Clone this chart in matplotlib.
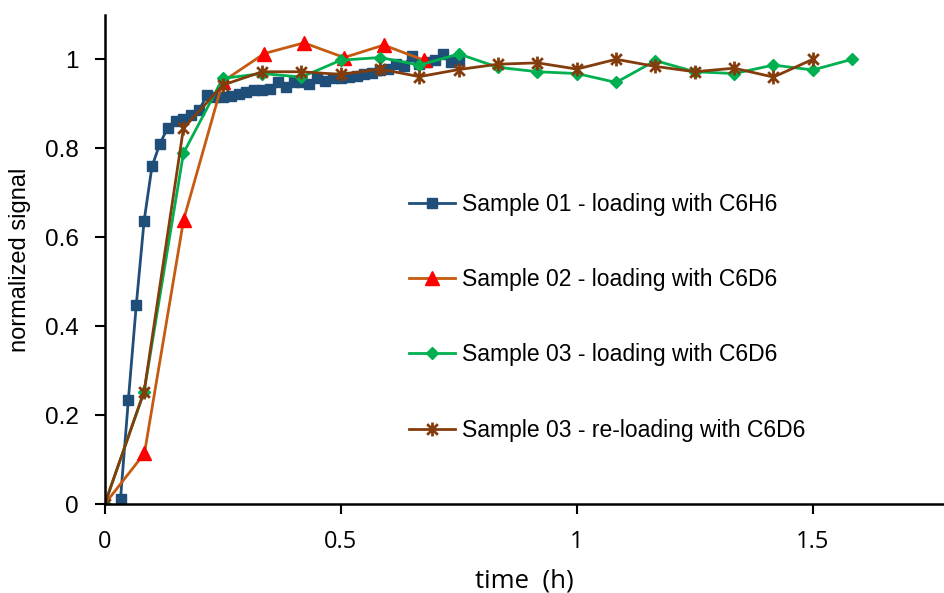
import matplotlib.pyplot as plt
from matplotlib.path import Path
from matplotlib.ticker import FuncFormatter

plt.rcParams['font.family'] = ['Liberation Sans', 'DejaVu Sans']

# Sample 01 - one point per minute, from 2 to 45 min
s1_minutes = list(range(2, 46))
s1_signal = [0.012, 0.235, 0.447, 0.637, 0.759, 0.810, 0.846, 0.862, 0.866, 0.875,
             0.886, 0.920, 0.916, 0.915, 0.918, 0.922, 0.926, 0.930, 0.932, 0.933,
             0.950, 0.938, 0.950, 0.950, 0.945, 0.957, 0.952, 0.958, 0.957, 0.961,
             0.963, 0.968, 0.970, 0.975, 0.978, 0.990, 0.985, 1.008, 0.990, 0.995,
             0.998, 1.012, 0.995, 0.998]

# Sample 02
s2_time = [0, 0.084, 0.167, 0.25, 0.338, 0.422, 0.507, 0.591, 0.676]
s2_signal = [0, 0.114, 0.639, 0.950, 1.013, 1.037, 1.004, 1.032, 0.998]

# Sample 03 loading - every 5 min
s3_steps = list(range(0, 20))
s3_signal = [0, 0.253, 0.789, 0.957, 0.968, 0.960, 0.998, 1.004, 0.987, 1.012,
             0.982, 0.972, 0.968, 0.948, 0.997, 0.972, 0.968, 0.987, 0.976, 1.0]

# Sample 03 re-loading - every 5 min
s3r_steps = list(range(0, 19))
s3r_signal = [0, 0.253, 0.845, 0.942, 0.972, 0.972, 0.966, 0.978, 0.961, 0.977,
              0.989, 0.992, 0.978, 1.0, 0.984, 0.972, 0.980, 0.960, 1.0]

s1_time = [m / 60 for m in s1_minutes]
s3_time = [k / 12 for k in s3_steps]
s3r_time = [k / 12 for k in s3r_steps]

# Excel-like star marker: x plus a vertical bar
star = Path([(-1, -1), (1, 1), (-1, 1), (1, -1), (0, -1.3), (0, 1.3)],
            [Path.MOVETO, Path.LINETO, Path.MOVETO, Path.LINETO, Path.MOVETO, Path.LINETO])

fig = plt.figure(figsize=(9.44, 5.93), dpi=100)
ax = fig.add_axes([0.111, 0.150, 0.889, 0.825])

ax.plot(s1_time, s1_signal, color='#1F4E79', lw=2, marker='s', ms=7.5,
        label='Sample 01 - loading with C6H6')
ax.plot(s2_time, s2_signal, color='#C55A11', lw=2, marker='^', ms=9.5,
        mfc='#FF0000', mec='#FF0000', label='Sample 02 - loading with C6D6')
ax.plot(s3_time, s3_signal, color='#00B050', lw=2, marker='D', ms=6,
        label='Sample 03 - loading with C6D6')
ax.plot(s3r_time, s3r_signal, color='#843C0C', lw=2, marker=star, ms=10, mew=2,
        label='Sample 03 - re-loading with C6D6')

ax.set_xlim(0, 1.778)
ax.set_ylim(0, 1.1)
ax.set_xticks([0, 0.5, 1, 1.5])
ax.set_yticks([0, 0.2, 0.4, 0.6, 0.8, 1.0])
fmt = FuncFormatter(lambda v, p: f'{v:g}')
ax.xaxis.set_major_formatter(fmt)
ax.yaxis.set_major_formatter(fmt)

ax.spines['top'].set_visible(False)
ax.spines['right'].set_visible(False)
ax.spines['left'].set_linewidth(1.8)
ax.spines['bottom'].set_linewidth(1.8)
ax.tick_params(direction='out', length=7, width=1.5)
ax.tick_params(axis='y', labelsize=17.5, pad=12)
ax.tick_params(axis='x', labelsize=17, pad=12)
for lbl in ax.get_xticklabels():
    lbl.set_family(['Open Sans', 'DejaVu Sans'])

ax.set_xlabel('time  (h)', fontsize=18.5, family=['Open Sans', 'DejaVu Sans'], labelpad=10)
ax.set_ylabel('normalized signal', fontsize=17, labelpad=10)

ax.legend(loc='center left', bbox_to_anchor=(0.349, 0.382), frameon=False,
          fontsize=16.5, borderpad=0, labelspacing=2.28, handlelength=2.0,
          handletextpad=0.3)

fig.savefig('out.png', dpi=100)
